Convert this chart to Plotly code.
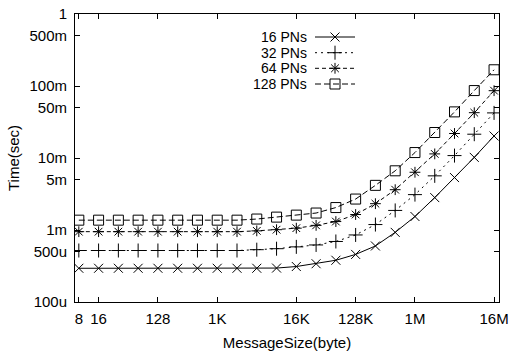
import plotly.graph_objects as go

# ---- data ----
msg_sizes = [2 ** k for k in range(3, 25)]  # 8 B .. 16 MB
t_16pn = [2.94e-4, 2.94e-4, 2.94e-4, 2.94e-4, 2.94e-4, 2.94e-4, 2.94e-4, 2.94e-4, 2.94e-4, 2.94e-4, 2.96e-4,
          3.11e-4, 3.40e-4, 3.80e-4, 4.58e-4, 6.00e-4, 9.27e-4, 1.54e-3, 2.82e-3, 5.35e-3, 1.02e-2, 2.02e-2]
t_32pn = [5.19e-4, 5.19e-4, 5.19e-4, 5.19e-4, 5.19e-4, 5.19e-4, 5.19e-4, 5.19e-4, 5.19e-4, 5.33e-4, 5.50e-4,
          5.83e-4, 6.20e-4, 6.93e-4, 8.54e-4, 1.19e-3, 1.87e-3, 3.10e-3, 5.65e-3, 1.08e-2, 2.14e-2, 4.23e-2]
t_64pn = [9.48e-4, 9.48e-4, 9.48e-4, 9.48e-4, 9.48e-4, 9.48e-4, 9.48e-4, 9.48e-4, 9.48e-4, 9.73e-4, 1.01e-3,
          1.06e-3, 1.16e-3, 1.31e-3, 1.64e-3, 2.32e-3, 3.63e-3, 6.34e-3, 1.14e-2, 2.19e-2, 4.26e-2, 8.61e-2]
t_128pn = [1.37e-3, 1.37e-3, 1.37e-3, 1.37e-3, 1.37e-3, 1.37e-3, 1.37e-3, 1.37e-3, 1.37e-3, 1.42e-3, 1.51e-3,
           1.61e-3, 1.72e-3, 2.05e-3, 2.69e-3, 4.17e-3, 6.64e-3, 1.19e-2, 2.26e-2, 4.37e-2, 8.64e-2, 1.68e-1]

series_names = ["16 PNs", "32 PNs", "64 PNs", "128 PNs"]
series_values = [t_16pn, t_32pn, t_64pn, t_128pn]

x_tickvals = [8, 16, 128, 1024, 16384, 131072, 1048576, 16777216]
x_ticktext = ["8", "16", "128", "1K", "16K", "128K", "1M", "16M"]
y_tickvals = [1e-4, 5e-4, 1e-3, 5e-3, 1e-2, 5e-2, 1e-1, 5e-1, 1]
y_ticktext = ["100u", "500u", "1m", "5m", "10m", "50m", "100m", "500m", "1"]

# ---- styles ----
symbols = ["x-thin-open", "cross-thin-open", "asterisk-open", "square-open"]
sizes = [9, 10, 9, 10]
dashes = ["solid", "2px,4px", "4px,3px", "6px,3px"]
FONT = "Liberation Sans, Arial, Helvetica, sans-serif"
FS = 15
LEG_FS = 14

fig = go.Figure()
for name, vals, sym, sz, dash in zip(series_names, series_values, symbols, sizes, dashes):
    fig.add_trace(go.Scatter(
        x=msg_sizes, y=vals, mode="lines+markers", name=name, showlegend=False,
        line=dict(color="black", width=1, dash=dash),
        marker=dict(symbol=sym, size=sz, color="black", line=dict(color="black", width=1)),
    ))

# ---- custom gnuplot-like legend (text, then sample) ----
legend_rows_px = [37, 52.7, 68.3, 84]   # pixel rows from top of figure
plot_top, plot_bottom, plot_left, plot_right = 14, 302, 75, 499
ph = plot_bottom - plot_top
pw = plot_right - plot_left
for name, sym, sz, dash, row in zip(series_names, symbols, sizes, dashes, legend_rows_px):
    yv = plot_bottom - row
    fig.add_trace(go.Scatter(
        x=[0, 0.5, 1], y=[yv, yv, yv], mode="lines", xaxis="x2", yaxis="y2", showlegend=False,
        hoverinfo="skip", line=dict(color="black", width=1, dash=dash),
    ))
    fig.add_trace(go.Scatter(
        x=[0.5], y=[yv], mode="markers", xaxis="x2", yaxis="y2", showlegend=False, hoverinfo="skip",
        marker=dict(symbol=sym, size=sz, color="black", line=dict(color="black", width=1)),
    ))
    fig.add_annotation(
        x=(308 - plot_left) / pw, y=yv / ph, xref="paper", yref="paper",
        text=name, showarrow=False, xanchor="right", yanchor="middle",
        font=dict(family=FONT, size=LEG_FS, color="black"), borderpad=0,
    )

axis_common = dict(
    showline=True, linecolor="black", linewidth=1, mirror="ticks",
    ticks="inside", ticklen=5, tickcolor="black", tickwidth=1,
    showgrid=False, zeroline=False, automargin=False,
    tickfont=dict(family=FONT, size=FS, color="black"),
)

fig.update_layout(
    width=510, height=351,
    margin=dict(l=plot_left, r=510 - plot_right, t=plot_top, b=351 - plot_bottom, autoexpand=False),
    paper_bgcolor="white", plot_bgcolor="rgba(0,0,0,0)",
    showlegend=False,
    xaxis=dict(type="log", range=[0.845, 7.30], tickvals=x_tickvals, ticktext=x_ticktext,
               ticklabelstandoff=3,
               title=dict(text="MessageSize(byte)", font=dict(family=FONT, size=FS, color="black"), standoff=12),
               **axis_common),
    yaxis=dict(type="log", range=[-4, 0], tickvals=y_tickvals, ticktext=y_ticktext,
               ticklabelstandoff=4,
               title=dict(text="Time(sec)", font=dict(family=FONT, size=FS, color="black"), standoff=6),
               **axis_common),
    xaxis2=dict(domain=[(315 - plot_left) / pw, (355 - plot_left) / pw], range=[0, 1], visible=False,
                anchor="y2"),
    yaxis2=dict(domain=[0, 1], range=[0, ph], visible=False, anchor="x2"),
)

fig.write_html("out.html", config={"displayModeBar": False},
               post_script="document.body.style.margin='0';")
